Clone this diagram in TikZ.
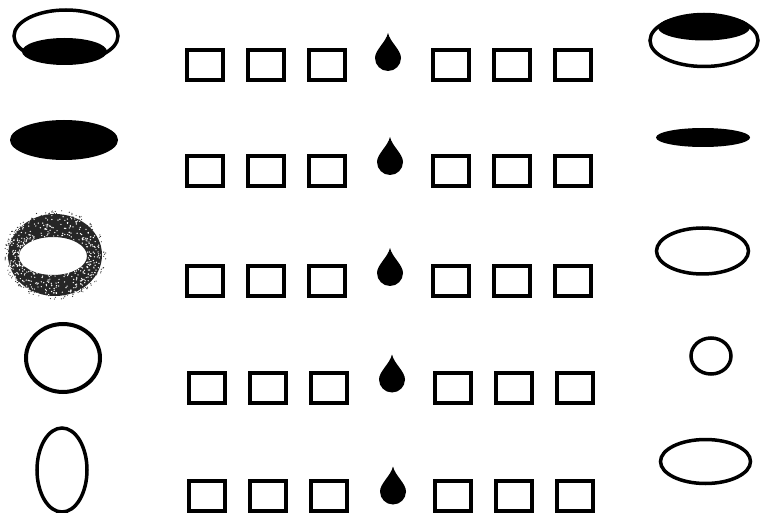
\documentclass[tikz,border=0pt]{standalone}
\begin{document}
\begin{tikzpicture}[x=1pt,y=-1pt,
  sq/.style={draw=black,line width=4pt,minimum width=36.5pt,minimum height=30.5pt,inner sep=0pt},
  ring/.style={draw=black,line width=3.5pt},
  drop/.pic={\fill[black] (0,-25) .. controls (2,-16) and (13,-8) .. (13,0)
      arc[start angle=0,end angle=180,radius=13] .. controls (-13,-8) and (-2,-16) .. cycle;}]
\useasboundingbox (0,0) rectangle (761,513);
\fill[white] (0,0) rectangle (761,513);

% rows of squares and drops
\foreach \r/\y/\dx/\dy/\s in {1/65/388/58/0, 2/171/390/162/0, 3/281/390/273/0, 4/388/392/379.5/2, 5/496/393/491.5/2}{
  \node[sq] (a\r) at (205+\s,\y) {};
  \node[sq] (b\r) at (266+\s,\y) {};
  \node[sq] (c\r) at (327+\s,\y) {};
  \pic at (\dx,\dy) {drop};
  \node[sq] (d\r) at (451+\s,\y) {};
  \node[sq] (e\r) at (512+\s,\y) {};
  \node[sq] (f\r) at (573+\s,\y) {};
}

% left column
\draw[ring] (66,36) ellipse [x radius=52, y radius=26];
\fill[black] (64.5,51.5) ellipse [x radius=42.5, y radius=13.5];

\fill[black] (64,140) ellipse [x radius=54, y radius=20];

% grainy ring
\fill[black!85,even odd rule] (55,255) ellipse [x radius=47, y radius=41]
   (53,256) ellipse [x radius=34, y radius=19];
\pgfmathsetseed{7}
\foreach \i in {1,...,420}{
  \pgfmathsetmacro{\t}{rnd*360}
  \pgfmathsetmacro{\s}{rnd}
  \pgfmathsetmacro{\px}{54+(34+\s*13)*cos(\t)}
  \pgfmathsetmacro{\py}{255.5+(19+\s*22)*sin(\t)}
  \fill[white] (\px,\py) circle[radius=0.7];
}
\foreach \i in {1,...,160}{
  \pgfmathsetmacro{\t}{rnd*360}
  \pgfmathsetmacro{\s}{rnd}
  \pgfmathsetmacro{\px}{55+(46+\s*5)*cos(\t)}
  \pgfmathsetmacro{\py}{255+(40+\s*5)*sin(\t)}
  \fill[black!80] (\px,\py) circle[radius=0.6];
}

\draw[ring,line width=4pt] (63,358) ellipse [x radius=37, y radius=34];
\draw[ring] (62,470) ellipse [x radius=25, y radius=42];

% right column
\draw[ring] (704,40.5) ellipse [x radius=54, y radius=26];
\fill[black] (704,27.5) ellipse [x radius=46, y radius=13];

\fill[black] (703,137.5) ellipse [x radius=47, y radius=9.5];

\draw[ring] (702.5,251) ellipse [x radius=46, y radius=23];
\draw[ring] (711,356) ellipse [x radius=20, y radius=18];
\draw[ring] (705.5,461.5) ellipse [x radius=45, y radius=22];
\end{tikzpicture}
\end{document}
